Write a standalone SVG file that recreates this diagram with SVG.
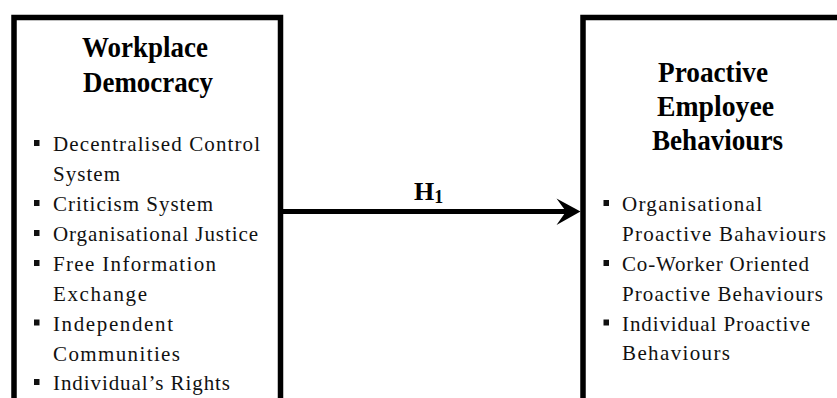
<svg xmlns="http://www.w3.org/2000/svg" width="837" height="398" viewBox="0 0 837 398">
<style>
.box{fill:#fff;stroke:#000;stroke-width:5.5}
.h{font-family:"Liberation Serif","Times New Roman",serif;font-weight:bold;font-size:29px;fill:#000}
.t{font-family:"Liberation Serif","Times New Roman",serif;font-size:21px;fill:#111}
.b{fill:#111}
.lbl{font-family:"Liberation Serif","Times New Roman",serif;font-weight:bold;font-size:26px;fill:#000}
</style>
<rect width="837" height="398" fill="#fff"/>
<g id="workplace-democracy">
<rect class="box" x="14" y="17.5" width="266.5" height="420"/>
<text class="h" x="82" y="56.7" textLength="126" lengthAdjust="spacingAndGlyphs">Workplace</text>
<text class="h" x="83" y="91.7" textLength="130" lengthAdjust="spacingAndGlyphs">Democracy</text>
<rect class="b" x="34" y="140" width="5.5" height="6"/>
<text class="t" x="53" y="151" textLength="207" lengthAdjust="spacing">Decentralised Control</text>
<text class="t" x="53" y="181" textLength="67" lengthAdjust="spacing">System</text>
<rect class="b" x="34" y="200" width="5.5" height="6"/>
<text class="t" x="53" y="211" textLength="160" lengthAdjust="spacing">Criticism System</text>
<rect class="b" x="34" y="230" width="5.5" height="6"/>
<text class="t" x="53" y="241" textLength="205" lengthAdjust="spacing">Organisational Justice</text>
<rect class="b" x="34" y="260" width="5.5" height="6"/>
<text class="t" x="53" y="271" textLength="163" lengthAdjust="spacing">Free Information</text>
<text class="t" x="53" y="300.5" textLength="94" lengthAdjust="spacing">Exchange</text>
<rect class="b" x="34" y="319.5" width="5.5" height="6"/>
<text class="t" x="53" y="330.5" textLength="120" lengthAdjust="spacing">Independent</text>
<text class="t" x="53" y="360.5" textLength="127" lengthAdjust="spacing">Communities</text>
<rect class="b" x="34" y="379" width="5.5" height="6"/>
<text class="t" x="53" y="390" textLength="177" lengthAdjust="spacing">Individual’s Rights</text>
</g>
<g id="proactive-employee-behaviours">
<rect class="box" x="583" y="17.5" width="300" height="420"/>
<text class="h" x="658" y="81.5" textLength="110" lengthAdjust="spacingAndGlyphs">Proactive</text>
<text class="h" x="657" y="116" textLength="117" lengthAdjust="spacingAndGlyphs">Employee</text>
<text class="h" x="652" y="150" textLength="131" lengthAdjust="spacingAndGlyphs">Behaviours</text>
<rect class="b" x="603.5" y="200" width="5.5" height="6"/>
<text class="t" x="622" y="211" textLength="140" lengthAdjust="spacing">Organisational</text>
<text class="t" x="622" y="241" textLength="204" lengthAdjust="spacing">Proactive Bahaviours</text>
<rect class="b" x="603.5" y="260" width="5.5" height="6"/>
<text class="t" x="622" y="271" textLength="187" lengthAdjust="spacing">Co-Worker Oriented</text>
<text class="t" x="622" y="300.5" textLength="201" lengthAdjust="spacing">Proactive Behaviours</text>
<rect class="b" x="603.5" y="319.5" width="5.5" height="6"/>
<text class="t" x="622" y="330.5" textLength="188" lengthAdjust="spacing">Individual Proactive</text>
<text class="t" x="622" y="360" textLength="108" lengthAdjust="spacing">Behaviours</text>
</g>
<g id="connectors">
<line x1="283" y1="211.5" x2="568" y2="211.5" stroke="#000" stroke-width="5"/>
<polygon points="580.5,211.5 556.5,198.5 566,211.5 556.5,225" fill="#000"/>
<text class="lbl" x="414" y="200">H<tspan font-size="18" dy="3">1</tspan></text>
</g>
</svg>
